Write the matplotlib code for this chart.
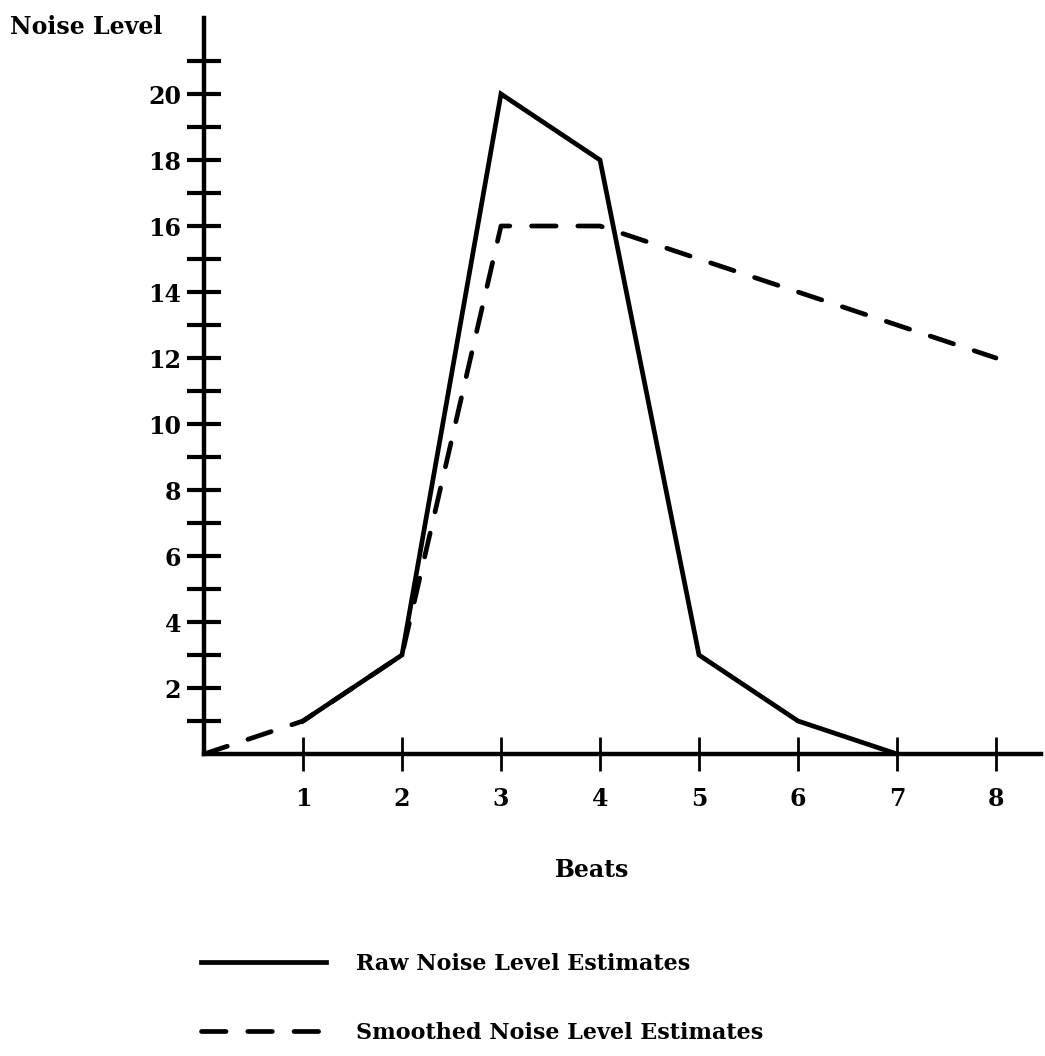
import matplotlib
matplotlib.use("Agg")
import matplotlib.pyplot as plt
from matplotlib.ticker import FixedLocator, FuncFormatter

# data
beats_raw = [1, 2, 3, 4, 5, 6, 7]
raw_noise = [1, 3, 20, 18, 3, 1, 0]
beats_smooth = [0, 1, 2, 3, 4, 5, 6, 7, 8]
smooth_noise = [0, 1, 3, 16, 16, 15, 14, 13, 12]
x_ticks = [1, 2, 3, 4, 5, 6, 7, 8]
y_ticks = list(range(1, 22))
y_labels = [2, 4, 6, 8, 10, 12, 14, 16, 18, 20]

W, H = 1045, 1056
plt.rcParams['font.family'] = ['DejaVu Serif']
plt.rcParams['font.weight'] = 'bold'

fig = plt.figure(figsize=(W/100, H/100), dpi=100)
x0, y0 = 204, 754          # pixel position of origin
ux, uy = 99, 33            # pixels per unit
xmax, ymax = 8.45, 22.3
ax = fig.add_axes([x0/W, (H-y0)/H, xmax*ux/W, ymax*uy/H])

lw = 3.4
ax.plot(beats_raw, raw_noise, color='black', lw=lw, solid_joinstyle='miter',
        label='Raw Noise Level Estimates')
ax.plot(beats_smooth, smooth_noise, color='black', lw=lw, dash_capstyle='round',
        linestyle=(0, (5.2, 4.6)), label='Smoothed Noise Level Estimates')

ax.set_xlim(0, xmax)
ax.set_ylim(0, ymax)
for s in ['top', 'right']:
    ax.spines[s].set_visible(False)
for s in ['left', 'bottom']:
    ax.spines[s].set_linewidth(3.2)

ax.set_xticks(x_ticks)
ax.yaxis.set_major_locator(FixedLocator(y_ticks))
ax.yaxis.set_major_formatter(FuncFormatter(
    lambda v, p: str(int(round(v))) if int(round(v)) in y_labels else ''))
ax.tick_params(axis='y', direction='inout', length=25, width=3, pad=4, labelsize=17)
ax.tick_params(axis='x', direction='inout', length=25, width=2, pad=11, labelsize=17)
ax.patch.set_alpha(0)

fig.text(592/W, 1-870/H, 'Beats', ha='center', va='center', fontsize=17, fontweight='bold')
fig.text(10/W, 1-27/H, 'Noise Level', ha='left', va='center', fontsize=17, fontweight='bold')

fig.legend(loc='upper left', bbox_to_anchor=(190/W, 1-942/H), frameon=False,
           fontsize=16, handlelength=5.6, handletextpad=1.35, labelspacing=2.1,
           borderpad=0)

fig.savefig('out.png', dpi=100)
